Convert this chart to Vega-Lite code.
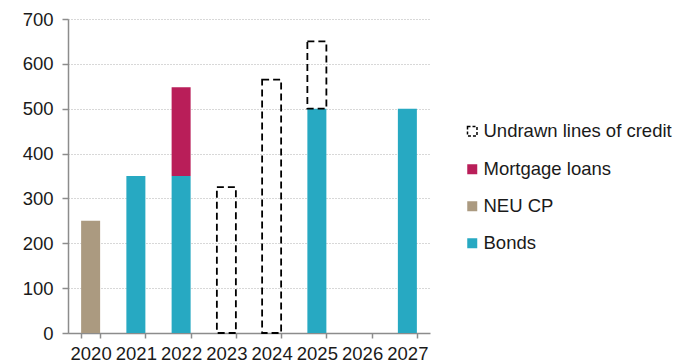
{
  "$schema": "https://vega.github.io/schema/vega-lite/v6.json",
  "autosize": "none",
  "width": 362,
  "height": 314,
  "padding": {"left": 68, "top": 19, "right": 245, "bottom": 31},
  "background": "white",
  "config": {
    "view": {"stroke": null},
    "font": "Liberation Sans"
  },
  "data": {
    "values": [
      {"year": "2020", "series": "NEU CP", "value": 250},
      {"year": "2021", "series": "Bonds", "value": 350},
      {"year": "2022", "series": "Bonds", "value": 350},
      {"year": "2022", "series": "Mortgage loans", "value": 198},
      {"year": "2023", "series": "Undrawn lines of credit", "value": 325},
      {"year": "2024", "series": "Undrawn lines of credit", "value": 565},
      {"year": "2025", "series": "Bonds", "value": 500},
      {"year": "2025", "series": "Undrawn lines of credit", "value": 150},
      {"year": "2027", "series": "Bonds", "value": 500}
    ]
  },
  "transform": [
    {"stack": "value", "groupby": ["year"], "sort": [{"field": "series", "order": "ascending"}], "as": ["y0", "y1"]}
  ],
  "encoding": {
    "x": {
      "field": "year", "type": "ordinal",
      "scale": {"domain": ["2020","2021","2022","2023","2024","2025","2026","2027"], "paddingInner": 0.58, "paddingOuter": 0.29},
      "axis": {
        "title": null, "labelAngle": 0, "labelFontSize": 18.5, "labelColor": "#1a1a1a",
        "domainColor": "#8c8c8c", "domainWidth": 1.5, "tickColor": "#8c8c8c", "tickWidth": 1.5, "tickSize": 5,
        "tickBand": "extent", "labelPadding": 6, "grid": false
      }
    },
    "y": {
      "field": "y0", "type": "quantitative",
      "scale": {"domain": [0, 700], "nice": false},
      "axis": {
        "title": null, "values": [0,100,200,300,400,500,600,700], "labelFontSize": 18.5, "labelColor": "#1a1a1a",
        "domainColor": "#8c8c8c", "domainWidth": 1.5, "tickColor": "#8c8c8c", "tickWidth": 1.5, "tickSize": 6,
        "labelPadding": 9, "grid": true, "gridColor": "#b0b0b0", "gridDash": [1, 2], "gridWidth": 1
      }
    },
    "y2": {"field": "y1"}
  },
  "layer": [
    {
      "transform": [{"filter": "datum.series !== 'Undrawn lines of credit'"}],
      "mark": {"type": "bar", "strokeWidth": 0},
      "encoding": {
        "fill": {
          "field": "series", "type": "nominal",
          "scale": {
            "domain": ["Mortgage loans", "NEU CP", "Bonds"],
            "range": ["#B91E59", "#AB9A80", "#27A9C2"]
          },
          "legend": {
            "title": null, "orient": "none", "legendX": 395, "legendY": 141,
            "symbolType": "square", "symbolSize": 100, "symbolStrokeWidth": 0,
            "labelFontSize": 18.5, "labelColor": "#1a1a1a", "labelOffset": 2, "labelLimit": 400, "rowPadding": 18, "padding": 0
          }
        }
      }
    },
    {
      "transform": [{"filter": "datum.series === 'Undrawn lines of credit'"}],
      "mark": {"type": "bar", "filled": false, "fill": "transparent", "strokeWidth": 1.8, "strokeDash": [7, 4]},
      "encoding": {
        "stroke": {
          "field": "series", "type": "nominal",
          "scale": {"domain": ["Undrawn lines of credit"], "range": ["black"]},
          "legend": {
            "title": null, "orient": "none", "legendX": 395, "legendY": 103,
            "symbolType": "square", "symbolSize": 90, "symbolStrokeWidth": 1.5, "symbolDash": [3, 2], "symbolFillColor": "white",
            "labelFontSize": 18.5, "labelColor": "#1a1a1a", "labelOffset": 2, "labelLimit": 400, "padding": 0
          }
        }
      }
    }
  ],
  "resolve": {"legend": {"fill": "independent", "stroke": "independent"}}
}
